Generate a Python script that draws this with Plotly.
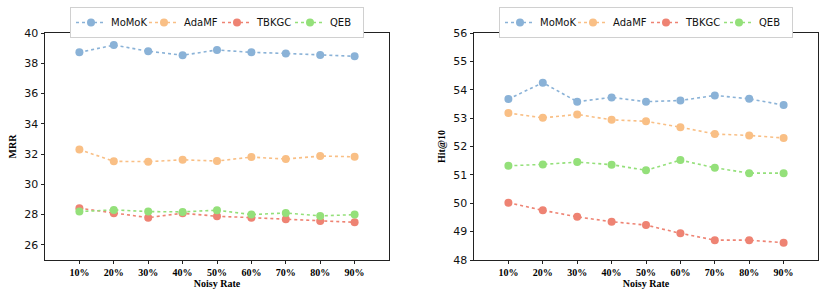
import plotly.graph_objects as go

noisy_rates = ["10%", "20%", "30%", "40%", "50%", "60%", "70%", "80%", "90%"]
methods = ["MoMoK", "AdaMF", "TBKGC", "QEB"]

mrr_momok = [38.72, 39.2, 38.8, 38.53, 38.88, 38.72, 38.65, 38.55, 38.46]
mrr_adamf = [32.3, 31.52, 31.5, 31.62, 31.54, 31.8, 31.67, 31.87, 31.82]
mrr_tbkgc = [28.42, 28.09, 27.8, 28.09, 27.89, 27.8, 27.69, 27.58, 27.49]
mrr_qeb = [28.2, 28.31, 28.2, 28.18, 28.29, 28.0, 28.11, 27.91, 28.0]

hit_momok = [53.67, 54.25, 53.58, 53.73, 53.58, 53.62, 53.8, 53.68, 53.46]
hit_adamf = [53.18, 53.01, 53.13, 52.94, 52.89, 52.68, 52.44, 52.39, 52.3]
hit_tbkgc = [50.02, 49.75, 49.52, 49.35, 49.23, 48.94, 48.7, 48.7, 48.61]
hit_qeb = [51.32, 51.37, 51.45, 51.36, 51.16, 51.52, 51.25, 51.06, 51.06]

colors = ["#8ab2d7", "#f9bf85", "#ee8373", "#94e07a"]

mrr_series = [mrr_momok, mrr_adamf, mrr_tbkgc, mrr_qeb]
hit_series = [hit_momok, hit_adamf, hit_tbkgc, hit_qeb]

W, H = 831, 297
def fx(p):
    return p / W
def fy(p):
    return 1 - p / H

fig = go.Figure()
for name, vals, c in zip(methods, mrr_series, colors):
    fig.add_trace(go.Scatter(
        x=noisy_rates, y=vals, name=name, mode="lines+markers",
        line=dict(color=c, width=1.6, dash="dot"),
        marker=dict(color=c, size=8),
        xaxis="x", yaxis="y", legend="legend"))
for name, vals, c in zip(methods, hit_series, colors):
    fig.add_trace(go.Scatter(
        x=noisy_rates, y=vals, name=name, mode="lines+markers",
        line=dict(color=c, width=1.6, dash="dot"),
        marker=dict(color=c, size=8),
        xaxis="x2", yaxis="y2", legend="legend2"))

serif_bold = dict(family="Liberation Serif", size=10, color="#000")
tick_font = dict(family="DejaVu Sans", size=11, color="#111")

xcommon = dict(type="category", categoryorder="array", categoryarray=noisy_rates,
               range=[-1, 9], showline=True, mirror=True, linecolor="#222", linewidth=1,
               ticks="outside", ticklen=3, tickcolor="#222", showgrid=False, zeroline=False,
               tickfont=serif_bold,
               title=dict(text="<b>Noisy Rate</b>", font=serif_bold, standoff=2))
ycommon = dict(showline=True, mirror=True, linecolor="#222", linewidth=1,
               ticks="outside", ticklen=3.5, tickcolor="#222", showgrid=False, zeroline=False,
               tickfont=tick_font)

legend_common = dict(orientation="h", yanchor="middle", y=fy(22.5),
                     bgcolor="white", bordercolor="#d0d0d0", borderwidth=1,
                     font=dict(family="DejaVu Sans", size=10, color="#111"),
                     itemwidth=30, tracegroupgap=0, entrywidth=28)

fig.update_layout(
    width=W, height=H, margin=dict(l=0, r=0, t=0, b=0, autoexpand=False),
    plot_bgcolor="white", paper_bgcolor="white",
    xaxis=dict(domain=[fx(45), fx(389)], anchor="y",
               tickprefix="<b>", ticksuffix="</b>", **xcommon),
    yaxis=dict(domain=[fy(260), fy(33)], anchor="x", range=[25, 40], dtick=2, tick0=26,
               title=dict(text="<b>MRR</b>", font=serif_bold, standoff=5), **ycommon),
    xaxis2=dict(domain=[fx(474), fx(818)], anchor="y2",
                tickprefix="<b>", ticksuffix="</b>", **xcommon),
    yaxis2=dict(domain=[fy(260), fy(33)], anchor="x2", range=[48, 56], dtick=1,
                title=dict(text="<b>Hit@10</b>", font=serif_bold, standoff=5), **ycommon),
    legend=dict(x=fx(217), xanchor="center", **legend_common),
    legend2=dict(x=fx(646), xanchor="center", **legend_common),
    showlegend=True,
)

fig.write_html("out.html", config={"displayModeBar": False},
               post_script="document.body.style.margin='0';document.body.style.padding='0';")
